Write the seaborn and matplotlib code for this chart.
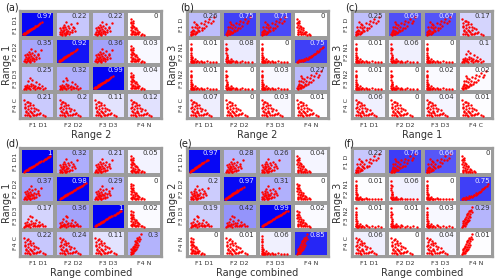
import numpy as np
import pandas as pd
import matplotlib
matplotlib.use("Agg")
import matplotlib.pyplot as plt
import seaborn as sns
from matplotlib.colors import LinearSegmentedColormap

# ---------------- data ----------------
panel_labels = ["(a)", "(b)", "(c)", "(d)", "(e)", "(f)"]
ylabels = ["Range 1", "Range 3", "Range 3", "Range 1", "Range 2", "Range 3"]
xlabels = ["Range 2", "Range 2", "Range 1", "Range combined", "Range combined", "Range combined"]

rows_a = ["F1 D1", "F2 D2", "F3 D3", "F4 C"]
cols_a = ["F1 D1", "F2 D2", "F3 D3", "F4 N"]
rows_b = ["F1 D", "F2 N1", "F3 N2", "F4 C"]
cols_b = ["F1 D1", "F2 D2", "F3 D3", "F4 N"]
rows_c = ["F1 D", "F2 N1", "F3 N2", "F4 C"]
cols_c = ["F1 D1", "F2 D2", "F3 D3", "F4 C"]
rows_d = ["F1 D1", "F2 D2", "F3 D3", "F4 C"]
cols_d = ["F1 D1", "F2 D2", "F3 D3", "F4 N"]
rows_e = ["F1 D1", "F2 D2", "F3 D3", "F4 N"]
cols_e = ["F1 D1", "F2 D2", "F3 D3", "F4 N"]
rows_f = ["F1 D", "F2 N1", "F3 N2", "F4 C"]
cols_f = ["F1 D1", "F2 D2", "F3 D3", "F4 N"]

vals_a = [[0.97, 0.22, 0.22, 0], [0.35, 0.92, 0.36, 0.03], [0.25, 0.32, 0.99, 0.04], [0.21, 0.2, 0.11, 0.12]]
vals_b = [[0.26, 0.75, 0.71, 0], [0.01, 0.08, 0, 0.75], [0.01, 0, 0.03, 0.27], [0.07, 0, 0.03, 0.01]]
vals_c = [[0.25, 0.69, 0.67, 0.17], [0.01, 0.06, 0, 0.1], [0.01, 0, 0.02, 0.02], [0.06, 0, 0.04, 0.01]]
vals_d = [[1, 0.32, 0.21, 0.05], [0.37, 0.98, 0.29, 0], [0.17, 0.36, 1, 0.02], [0.22, 0.24, 0.11, 0.3]]
vals_e = [[0.97, 0.28, 0.26, 0.04], [0.2, 0.97, 0.31, 0], [0.19, 0.42, 0.99, 0.02], [0, 0.01, 0.06, 0.85]]
vals_f = [[0.22, 0.76, 0.66, 0], [0.01, 0.06, 0, 0.75], [0.01, 0.01, 0.03, 0.29], [0.06, 0, 0.04, 0.01]]

# scatter shape of each cell
shape_a = [["diag", "blob", "blob", "decay"], ["blob", "diag", "blob", "decay"],
           ["low", "low", "diag", "decay"], ["cloud", "cloud", "cloud", "cloud"]]
shape_b = [["fan", "fan", "fan", "decay"], ["L", "L", "L", "curve"],
           ["L", "L", "L", "fan"], ["cloud", "cloud", "cloud", "cloud"]]
shape_c = [["fan", "fan", "fan", "cloud"], ["L", "L", "L", "low"],
           ["L", "L", "L", "fan"], ["cloud", "cloud", "cloud", "cloud"]]
shape_d = [["diagl", "blob", "blob", "decay"], ["blob", "diagl", "blob", "decay"],
           ["low", "low", "diagl", "decay"], ["cloud", "cloud", "cloud", "steep"]]
shape_e = [["diag", "blob", "blob", "decay"], ["blob", "diag", "blob", "decay"],
           ["low", "low", "diagl", "decay"], ["decay", "cloud", "L", "steep"]]
shape_f = [["fan", "fan", "fan", "decay"], ["L", "L", "L", "curve"],
           ["L", "L", "L", "steep"], ["cloud", "cloud", "cloud", "steep"]]

# representative point clouds (cell units, 0..1)
diag_x = [0.08, 0.10, 0.12, 0.14, 0.16, 0.18, 0.20, 0.22, 0.24, 0.26, 0.28, 0.30, 0.32, 0.35, 0.38, 0.41, 0.44, 0.47, 0.50, 0.54, 0.58, 0.62, 0.11, 0.15, 0.19, 0.23, 0.27, 0.31, 0.36, 0.43]
diag_y = [0.12, 0.13, 0.15, 0.17, 0.19, 0.20, 0.22, 0.24, 0.26, 0.27, 0.29, 0.31, 0.33, 0.35, 0.38, 0.40, 0.43, 0.45, 0.48, 0.51, 0.55, 0.58, 0.16, 0.19, 0.23, 0.27, 0.30, 0.34, 0.38, 0.44]
diagl_x = [0.10, 0.13, 0.16, 0.19, 0.22, 0.25, 0.28, 0.31, 0.34, 0.37, 0.40, 0.43, 0.46, 0.49, 0.52, 0.55, 0.58, 0.61, 0.64, 0.67, 0.70, 0.73, 0.76, 0.79, 0.82, 0.86, 0.14, 0.20, 0.26, 0.32]
diagl_y = [0.12, 0.14, 0.17, 0.19, 0.21, 0.24, 0.26, 0.28, 0.31, 0.33, 0.35, 0.38, 0.40, 0.42, 0.45, 0.47, 0.49, 0.52, 0.54, 0.56, 0.59, 0.61, 0.63, 0.66, 0.68, 0.71, 0.16, 0.20, 0.25, 0.29]
blob_x = [0.10, 0.12, 0.14, 0.15, 0.17, 0.18, 0.20, 0.22, 0.23, 0.25, 0.27, 0.28, 0.30, 0.32, 0.34, 0.36, 0.38, 0.40, 0.43, 0.46, 0.50, 0.55, 0.60, 0.12, 0.16, 0.20, 0.24, 0.28, 0.33, 0.38, 0.45, 0.52, 0.30, 0.26, 0.19]
blob_y = [0.12, 0.20, 0.15, 0.30, 0.22, 0.12, 0.35, 0.18, 0.28, 0.14, 0.40, 0.22, 0.32, 0.16, 0.45, 0.25, 0.36, 0.20, 0.50, 0.30, 0.42, 0.25, 0.55, 0.38, 0.10, 0.26, 0.48, 0.12, 0.26, 0.14, 0.20, 0.35, 0.60, 0.10, 0.42]
low_x = [0.10, 0.13, 0.16, 0.19, 0.22, 0.25, 0.28, 0.31, 0.35, 0.39, 0.43, 0.48, 0.53, 0.58, 0.64, 0.70, 0.12, 0.18, 0.24, 0.30, 0.36, 0.45, 0.55, 0.20, 0.33, 0.42, 0.28, 0.50, 0.15, 0.62]
low_y = [0.10, 0.14, 0.11, 0.18, 0.12, 0.15, 0.10, 0.20, 0.13, 0.16, 0.11, 0.14, 0.12, 0.15, 0.11, 0.13, 0.22, 0.26, 0.20, 0.30, 0.25, 0.35, 0.28, 0.40, 0.45, 0.22, 0.52, 0.18, 0.17, 0.20]
L_x = [0.10, 0.10, 0.11, 0.11, 0.12, 0.12, 0.13, 0.11, 0.10, 0.12, 0.14, 0.16, 0.18, 0.21, 0.25, 0.30, 0.36, 0.43, 0.50, 0.58, 0.66, 0.75, 0.85, 0.15, 0.20, 0.28, 0.14, 0.12, 0.24, 0.40]
L_y = [0.80, 0.65, 0.55, 0.45, 0.38, 0.30, 0.25, 0.20, 0.14, 0.11, 0.10, 0.12, 0.10, 0.11, 0.10, 0.12, 0.10, 0.11, 0.10, 0.12, 0.10, 0.11, 0.10, 0.18, 0.14, 0.13, 0.30, 0.60, 0.20, 0.15]
decay_x = [0.10, 0.10, 0.11, 0.12, 0.12, 0.13, 0.14, 0.15, 0.16, 0.17, 0.18, 0.20, 0.22, 0.24, 0.26, 0.28, 0.30, 0.33, 0.36, 0.40, 0.44, 0.48, 0.14, 0.18, 0.22, 0.12, 0.16, 0.20, 0.26, 0.32]
decay_y = [0.70, 0.55, 0.42, 0.60, 0.30, 0.48, 0.20, 0.38, 0.55, 0.26, 0.45, 0.15, 0.32, 0.22, 0.12, 0.28, 0.16, 0.12, 0.20, 0.11, 0.14, 0.10, 0.12, 0.20, 0.12, 0.15, 0.65, 0.40, 0.35, 0.22]
fan_x = [0.10, 0.12, 0.14, 0.16, 0.18, 0.20, 0.22, 0.25, 0.28, 0.30, 0.33, 0.36, 0.40, 0.44, 0.48, 0.52, 0.56, 0.60, 0.65, 0.70, 0.75, 0.80, 0.12, 0.15, 0.18, 0.22, 0.26, 0.30, 0.35, 0.42, 0.50, 0.15, 0.20, 0.25]
fan_y = [0.12, 0.20, 0.15, 0.30, 0.18, 0.25, 0.40, 0.22, 0.35, 0.48, 0.28, 0.42, 0.55, 0.35, 0.50, 0.62, 0.45, 0.58, 0.70, 0.55, 0.65, 0.80, 0.10, 0.25, 0.12, 0.14, 0.18, 0.20, 0.24, 0.28, 0.35, 0.42, 0.60, 0.52]
cloud_x = [0.10, 0.12, 0.14, 0.16, 0.18, 0.20, 0.22, 0.24, 0.26, 0.28, 0.30, 0.33, 0.36, 0.40, 0.44, 0.48, 0.52, 0.58, 0.64, 0.70, 0.12, 0.15, 0.18, 0.22, 0.26, 0.30, 0.35, 0.40, 0.46, 0.55, 0.14, 0.20, 0.28, 0.38]
cloud_y = [0.70, 0.40, 0.55, 0.25, 0.62, 0.35, 0.48, 0.15, 0.58, 0.30, 0.42, 0.20, 0.50, 0.28, 0.38, 0.18, 0.32, 0.22, 0.14, 0.10, 0.15, 0.30, 0.12, 0.20, 0.10, 0.24, 0.12, 0.15, 0.12, 0.18, 0.45, 0.65, 0.52, 0.40]
curve_x = [0.10, 0.14, 0.18, 0.22, 0.26, 0.30, 0.34, 0.38, 0.42, 0.46, 0.50, 0.54, 0.58, 0.62, 0.66, 0.70, 0.74, 0.78, 0.82, 0.86, 0.12, 0.16, 0.20, 0.24, 0.30, 0.36, 0.44, 0.52, 0.60, 0.68]
curve_y = [0.10, 0.11, 0.12, 0.13, 0.15, 0.16, 0.18, 0.20, 0.22, 0.25, 0.28, 0.31, 0.35, 0.39, 0.43, 0.48, 0.53, 0.58, 0.63, 0.68, 0.14, 0.16, 0.18, 0.17, 0.21, 0.24, 0.27, 0.34, 0.40, 0.50]
steep_x = [0.10, 0.12, 0.13, 0.15, 0.16, 0.18, 0.19, 0.21, 0.22, 0.24, 0.25, 0.27, 0.28, 0.30, 0.32, 0.34, 0.36, 0.38, 0.40, 0.14, 0.17, 0.20, 0.23, 0.26, 0.29, 0.33, 0.12, 0.18, 0.24, 0.30]
steep_y = [0.10, 0.18, 0.25, 0.15, 0.32, 0.22, 0.40, 0.28, 0.48, 0.35, 0.55, 0.42, 0.62, 0.50, 0.68, 0.58, 0.75, 0.65, 0.85, 0.12, 0.14, 0.20, 0.26, 0.30, 0.36, 0.45, 0.30, 0.38, 0.58, 0.70]

shapes = {
    "diag": (diag_x, diag_y), "diagl": (diagl_x, diagl_y), "blob": (blob_x, blob_y),
    "low": (low_x, low_y), "L": (L_x, L_y), "decay": (decay_x, decay_y),
    "fan": (fan_x, fan_y), "cloud": (cloud_x, cloud_y), "curve": (curve_x, curve_y),
    "steep": (steep_x, steep_y),
}

panels = [
    (rows_a, cols_a, vals_a, shape_a), (rows_b, cols_b, vals_b, shape_b),
    (rows_c, cols_c, vals_c, shape_c), (rows_d, cols_d, vals_d, shape_d),
    (rows_e, cols_e, vals_e, shape_e), (rows_f, cols_f, vals_f, shape_f),
]

# ---------------- layout ----------------
sns.set_theme(style="white")
plt.rcParams["font.family"] = ["DejaVu Sans"]
fig = plt.figure(figsize=(5.0, 2.78), dpi=100)
cmap = LinearSegmentedColormap.from_list("wb", ["#ffffff", "#0000f5"])
lefts = [0.04, 0.373, 0.703]
bottoms = [0.572, 0.0755]
W, Hs = 0.284, [0.3885, 0.392]
label_pos = [(5, 7), (180, 7), (345, 7), (5, 144), (178, 144), (343, 144)]

for i, (rows, cols, vals, shp) in enumerate(panels):
    r, c = divmod(i, 3)
    ax = fig.add_axes([lefts[c], bottoms[r], W, Hs[r]])
    df = pd.DataFrame(vals, index=rows, columns=cols)
    sns.heatmap(df, ax=ax, cmap=cmap, vmin=0, vmax=1, cbar=False,
                linewidths=1.6, linecolor="#9c9c9c")
    for ri in range(4):
        for ci in range(4):
            sx, sy = shapes[shp[ri][ci]]
            px = ci + 0.02 + 0.96 * np.asarray(sx)
            py = ri + 1 - (0.02 + 0.96 * np.asarray(sy))
            ax.scatter(px, py, s=3, color="#ff0000", linewidths=0, zorder=3)
            v = vals[ri][ci]
            ax.text(ci + 0.9, ri + 0.2, f"{v:g}", ha="right", va="center",
                    fontsize=5, color="#e6e6ff" if v >= 0.6 else "#333333", zorder=4)
    for sp in ax.spines.values():
        sp.set_visible(True)
        sp.set_color("#9c9c9c")
        sp.set_linewidth(1.6)
    ax.set_xlim(0, 4)
    ax.set_ylim(4, 0)
    ax.tick_params(axis="both", length=0, labelsize=4.5, colors="#333333")
    ax.tick_params(axis="y", pad=1.5)
    ax.tick_params(axis="x", pad=3)
    ax.set_yticklabels(rows, rotation=90, va="center")
    ax.set_xticklabels(cols, rotation=0)
    ax.set_xlabel(xlabels[i], fontsize=7, labelpad=1, color="#333333")
    ax.set_ylabel(ylabels[i], fontsize=7, labelpad=1, color="#333333")
    lx, ly = label_pos[i]
    fig.text(lx / 500, 1 - ly / 278, panel_labels[i], fontsize=7, ha="left", va="center", color="#222222")

fig.savefig("out.png", dpi=100)
